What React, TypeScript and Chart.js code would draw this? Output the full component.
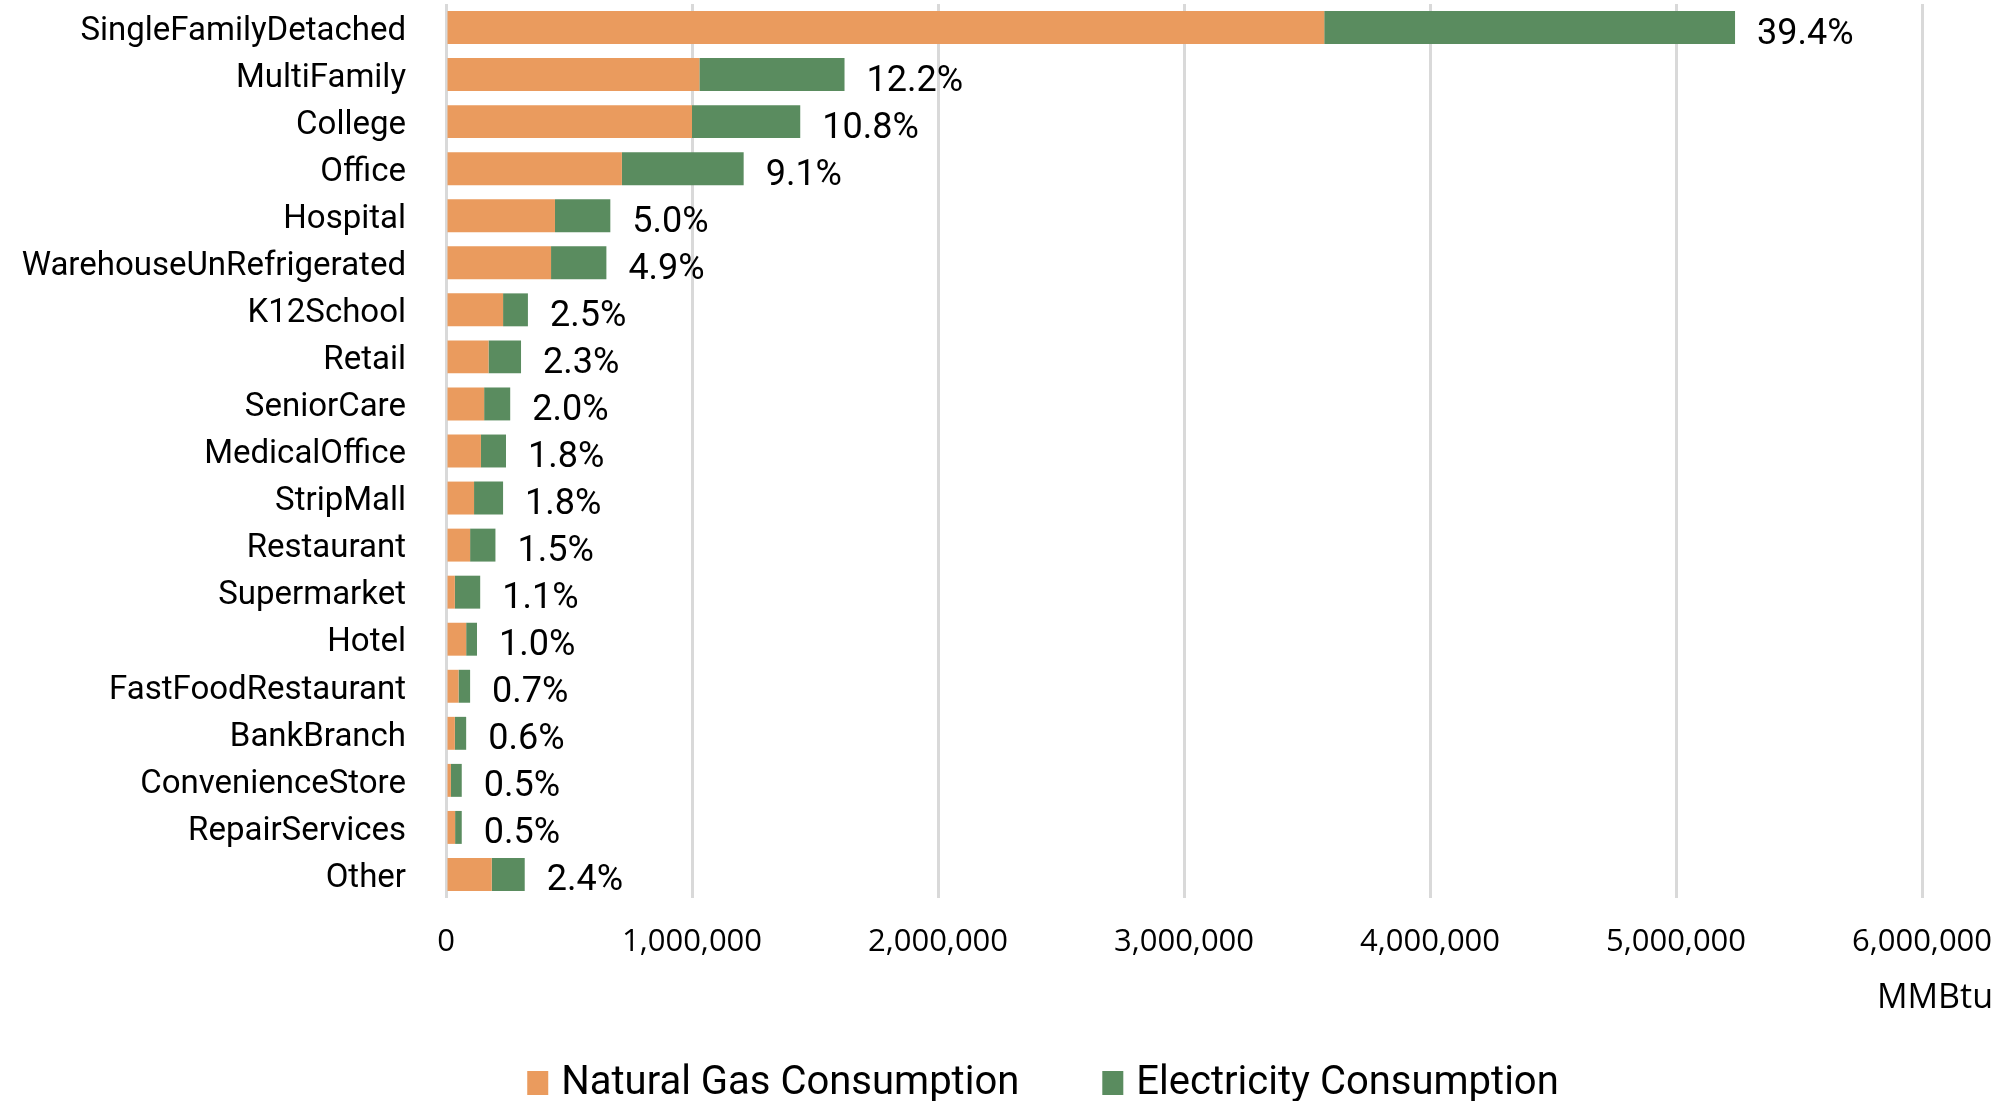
import React, { useEffect, useRef } from 'react';
import { Chart, registerables } from 'chart.js';

Chart.register(...registerables);

const categories = [
  'SingleFamilyDetached', 'MultiFamily', 'College', 'Office', 'Hospital',
  'WarehouseUnRefrigerated', 'K12School', 'Retail', 'SeniorCare', 'MedicalOffice',
  'StripMall', 'Restaurant', 'Supermarket', 'Hotel', 'FastFoodRestaurant',
  'BankBranch', 'ConvenienceStore', 'RepairServices', 'Other',
];

const naturalGas = [
  3570000, 1030000, 1000000, 715000, 443000,
  427000, 232000, 173000, 155000, 142000,
  114000, 98000, 36000, 82000, 51000,
  36000, 20000, 37000, 186000,
];

const electricity = [
  1670000, 590000, 440000, 495000, 225000,
  225000, 101000, 132000, 106000, 102000,
  118000, 103000, 103000, 44000, 47000,
  46000, 44000, 27000, 134000,
];

const shareLabels = [
  '39.4%', '12.2%', '10.8%', '9.1%', '5.0%',
  '4.9%', '2.5%', '2.3%', '2.0%', '1.8%',
  '1.8%', '1.5%', '1.1%', '1.0%', '0.7%',
  '0.6%', '0.5%', '0.5%', '2.4%',
];

const xMax = 6000000;
const xStep = 1000000;
const seriesNames = ['Natural Gas Consumption', 'Electricity Consumption'];
const seriesColors = ['#EA9B5E', '#5A8C5F'];
const axisTitle = 'MMBtu';

const overlayPlugin = {
  id: 'overlay',
  afterDatasetsDraw(chart: any) {
    const ctx = chart.ctx as CanvasRenderingContext2D;
    const xs = chart.scales.x;
    const ys = chart.scales.y;
    const area = chart.chartArea;
    ctx.save();
    // data labels
    ctx.font = '36px Roboto';
    ctx.fillStyle = '#000000';
    ctx.textAlign = 'left';
    ctx.textBaseline = 'alphabetic';
    categories.forEach((_, i) => {
      const total = naturalGas[i] + electricity[i];
      ctx.fillText(shareLabels[i], xs.getPixelForValue(total) + 22, ys.getPixelForValue(i) + 16);
    });
    // axis title
    ctx.font = '34px "Open Sans"';
    ctx.textAlign = 'right';
    ctx.fillText(axisTitle, area.right + 71, area.bottom + 110);
    // legend
    ctx.font = '40px Roboto';
    ctx.textAlign = 'left';
    const box = 21;
    const boxGap = 13;
    const itemGap = 83;
    const widths = chart.data.datasets.map((d: any) => box + boxGap + ctx.measureText(d.label).width);
    const totalW = widths.reduce((a: number, b: number) => a + b, 0) + itemGap * (widths.length - 1);
    let lx = 1043 - totalW / 2;
    const baseY = area.bottom + 196;
    chart.data.datasets.forEach((d: any, i: number) => {
      ctx.fillStyle = d.backgroundColor;
      ctx.fillRect(lx, baseY - 23, box, 24);
      ctx.fillStyle = '#000000';
      ctx.fillText(d.label, lx + box + boxGap, baseY);
      lx += widths[i] + itemGap;
    });
    ctx.restore();
  },
};

export default function App() {
  const ref = useRef<HTMLCanvasElement>(null);
  useEffect(() => {
    if (!ref.current) return;
    const chart = new Chart(ref.current, {
      type: 'bar',
      data: {
        labels: categories,
        datasets: [
          { label: seriesNames[0], data: naturalGas, backgroundColor: seriesColors[0], borderWidth: 0 },
          { label: seriesNames[1], data: electricity, backgroundColor: seriesColors[1], borderWidth: 0 },
        ],
      },
      options: {
        indexAxis: 'y',
        responsive: false,
        devicePixelRatio: 1,
        animation: false,
        datasets: { bar: { categoryPercentage: 1, barPercentage: 0.7 } },
        layout: { padding: { top: 4, right: 93, left: 0, bottom: 0 } },
        plugins: { legend: { display: false }, tooltip: { enabled: false } },
        scales: {
          x: {
            stacked: true,
            min: 0,
            max: xMax,
            afterFit: (s: any) => {
              s.height = 203;
              s.paddingLeft = 0;
              s.paddingRight = 0;
            },
            grid: { color: '#D9D9D9', lineWidth: 3, drawTicks: false },
            border: { display: false },
            ticks: {
              stepSize: xStep,
              padding: 26,
              color: '#000000',
              font: { family: '"Open Sans"', size: 31 },
              maxRotation: 0,
              callback: (v: any) => Number(v).toLocaleString('en-US'),
            },
          },
          y: {
            stacked: true,
            afterFit: (s: any) => {
              s.width = 446;
              s.paddingTop = 0;
              s.paddingBottom = 0;
            },
            grid: { display: false, drawTicks: false },
            border: { display: false },
            ticks: {
              padding: 40,
              labelOffset: 4,
              color: '#000000',
              font: { family: 'Roboto', size: 33 },
              autoSkip: false,
            },
          },
        },
      },
      plugins: [overlayPlugin],
    });
    return () => chart.destroy();
  }, []);
  return (
    <div style={{ position: 'absolute', left: 0, top: 0, width: 2015, height: 1101, background: '#ffffff' }}>
      <canvas ref={ref} width={2015} height={1101} style={{ width: 2015, height: 1101 }} />
    </div>
  );
}
